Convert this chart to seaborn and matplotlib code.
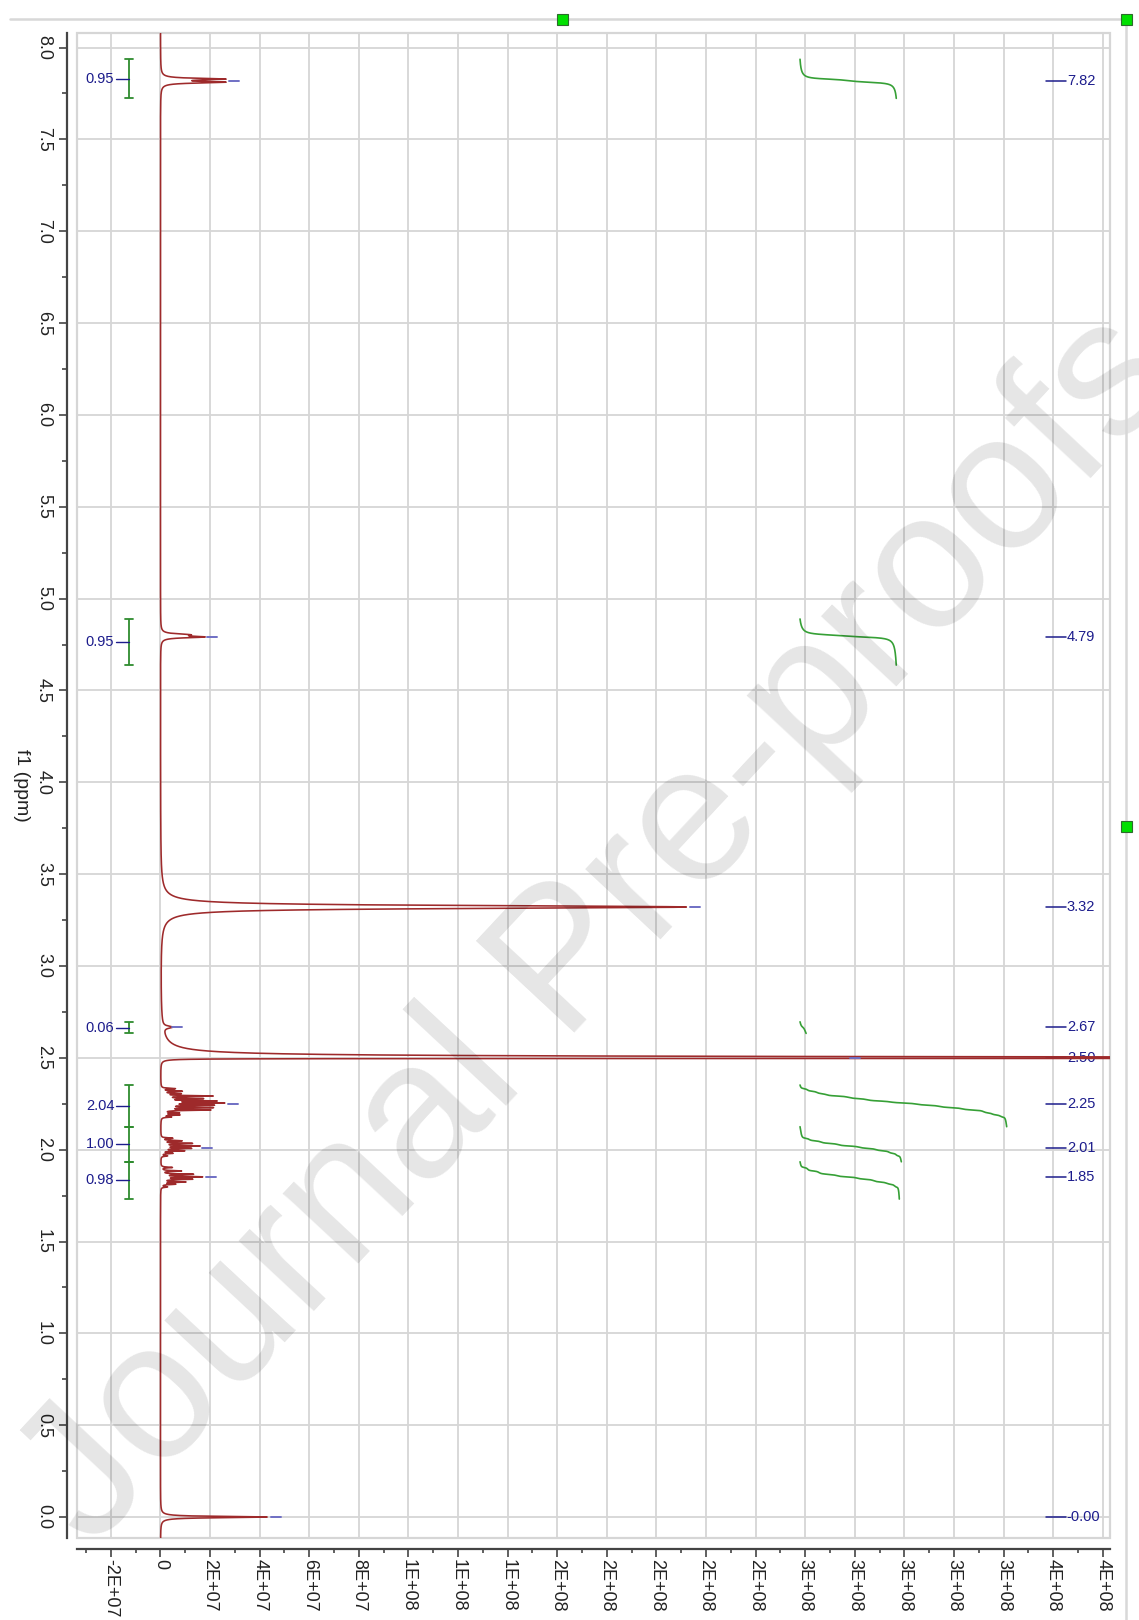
import numpy as np
import pandas as pd
import matplotlib
matplotlib.use("Agg")
import matplotlib.pyplot as plt
import seaborn as sns
from matplotlib.lines import Line2D
from matplotlib.patches import Rectangle

# ---------------- data ----------------
# peak list: chemical shift (ppm), height (intensity), half widths (ppm) on the high / low ppm side
peak_ppm = [7.828, 7.811,
            4.803, 4.791,
            3.321,
            2.667,
            2.4975,
            2.332, 2.318, 2.305, 2.292, 2.278, 2.265, 2.254, 2.242, 2.229, 2.216, 2.200, 2.189, 2.178,
            2.062, 2.048, 2.034, 2.020, 2.007, 1.994, 1.980, 1.966,
            1.903, 1.884, 1.866, 1.852, 1.839, 1.824, 1.812, 1.797,
            0.000]
peak_height = [2.45e7, 2.45e7,
               1.0e7, 1.6e7,
               2.12e8,
               3.8e6,
               1.5e9,
               5.5e6, 8.0e6, 7.0e6, 2.0e7, 1.55e7, 2.05e7, 2.35e7, 1.95e7, 1.95e7, 1.9e7, 6.5e6, 7.0e6, 3.8e6,
               4.5e6, 8.0e6, 1.2e7, 1.5e7, 1.15e7, 9.0e6, 4.5e6, 2.5e6,
               4.5e6, 8.0e6, 1.25e7, 1.6e7, 1.2e7, 9.5e6, 5.5e6, 2.5e6,
               4.3e7]
peak_hw_hi = [0.005, 0.005,
              0.006, 0.005,
              0.0095,
              0.007,
              0.0045,
              0.0025, 0.0025, 0.0025, 0.0025, 0.0025, 0.0025, 0.0025, 0.0025, 0.0025, 0.0025, 0.0025, 0.0025, 0.0025,
              0.0025, 0.0025, 0.0025, 0.0025, 0.0025, 0.0025, 0.0025, 0.0025,
              0.0025, 0.0025, 0.0025, 0.0025, 0.0025, 0.0025, 0.0025, 0.0025,
              0.004]
peak_hw_lo = [0.005, 0.005,
              0.006, 0.005,
              0.0095,
              0.007,
              0.0005,
              0.0025, 0.0025, 0.0025, 0.0025, 0.0025, 0.0025, 0.0025, 0.0025, 0.0025, 0.0025, 0.0025, 0.0025, 0.0025,
              0.0025, 0.0025, 0.0025, 0.0025, 0.0025, 0.0025, 0.0025, 0.0025,
              0.0025, 0.0025, 0.0025, 0.0025, 0.0025, 0.0025, 0.0025, 0.0025,
              0.004]

# integrations
integral_values = [0.95, 0.95, 0.06, 2.04, 1.00, 0.98]
integral_labels = ["0.95", "0.95", "0.06", "2.04", "1.00", "0.98"]
integral_from = [7.936, 4.889, 2.696, 2.352, 2.125, 1.934]
integral_to = [7.723, 4.638, 2.633, 2.125, 1.934, 1.731]

# peak picking labels
label_ppm = [7.82, 4.79, 3.32, 2.67, 2.50, 2.25, 2.01, 1.85, 0.00]
label_text = ["7.82", "4.79", "3.32", "2.67", "2.50", "2.25", "2.01", "1.85", "-0.00"]
marker_start = [2.78e7, 1.86e7, 2.135e8, 4.5e6, 2.78e8, 2.73e7, 1.66e7, 1.82e7, 4.45e7]

# axis ticks
x_ticks = [-2e7, 0, 2e7, 4e7, 6e7, 8e7, 1.0e8, 1.2e8, 1.4e8, 1.6e8, 1.8e8, 2.0e8,
           2.2e8, 2.4e8, 2.6e8, 2.8e8, 3.0e8, 3.2e8, 3.4e8, 3.6e8, 3.8e8]
x_tick_labels = ["-2E+07", "0", "2E+07", "4E+07", "6E+07", "8E+07", "1E+08", "1E+08", "1E+08",
                 "2E+08", "2E+08", "2E+08", "2E+08", "2E+08", "3E+08", "3E+08", "3E+08", "3E+08",
                 "3E+08", "4E+08", "4E+08"]
y_ticks = [0.0, 0.5, 1.0, 1.5, 2.0, 2.5, 3.0, 3.5, 4.0, 4.5, 5.0, 5.5, 6.0, 6.5, 7.0, 7.5, 8.0]
y_tick_labels = ["0.0", "0.5", "1.0", "1.5", "2.0", "2.5", "3.0", "3.5", "4.0", "4.5", "5.0",
                 "5.5", "6.0", "6.5", "7.0", "7.5", "8.0"]

# ---------------- style ----------------
sns.set_theme(style="white")
plt.rcParams['font.family'] = ['Liberation Sans', 'DejaVu Sans']
plt.rcParams['axes.unicode_minus'] = False

SPEC_C = '#9e2a2b'
INT_C = '#36a036'
BR_C = '#2e8b2e'
NAVY = '#1c1c8c'
MARK_C = '#6f6fc4'
GRID_C = '#d6d6d6'

W, H = 1139, 1620
fig = plt.figure(figsize=(W / 100, H / 100), dpi=100)
ax = fig.add_axes([77 / W, 1 - 1538 / H, (1110 - 77) / W, (1538 - 33) / H])

XMIN, XMAX = -3.367e7, 3.829e8
YMIN, YMAX = -0.114, 8.079
ax.set_xlim(XMIN, XMAX)
ax.set_ylim(YMIN, YMAX)

# grid
for xv in x_ticks:
    ax.axvline(xv, color=GRID_C, lw=1.3, zorder=0)
for yv in y_ticks:
    ax.axhline(yv, color=GRID_C, lw=1.3, zorder=0)
ax.add_patch(Rectangle((0, 0), 1, 1, transform=ax.transAxes, fill=False,
                       edgecolor=GRID_C, lw=1.6, zorder=0.5, clip_on=False))

# spectrum built from the peak list
ppm = np.linspace(-0.12, 8.08, 82001)
spec = np.zeros_like(ppm)
for c, h, ghi, glo in zip(peak_ppm, peak_height, peak_hw_hi, peak_hw_lo):
    d = ppm - c
    g = np.where(d > 0, ghi, glo)
    spec += h * g ** 2 / (g ** 2 + d ** 2)

df = pd.DataFrame({'intensity': spec, 'ppm': ppm})
sns.lineplot(data=df, x='intensity', y='ppm', orient='y', sort=False, estimator=None,
             color=SPEC_C, lw=1.15, ax=ax, zorder=3)

# integral curves
INT_BASE = 2.579e8
INT_SCALE = 4.085e7
for v, a, b in zip(integral_values, integral_from, integral_to):
    m = (ppm <= a) & (ppm >= b)
    seg_ppm = ppm[m][::-1]
    cs = np.cumsum(spec[m][::-1])
    cs = cs / cs[-1]
    dfi = pd.DataFrame({'x': INT_BASE + INT_SCALE * v * cs, 'ppm': seg_ppm})
    sns.lineplot(data=dfi, x='x', y='ppm', orient='y', sort=False, estimator=None,
                 color=INT_C, lw=1.2, ax=ax, zorder=3)

# integration brackets and values
BR_X = -1.26e7
CAP = 1.6e6
for lab, a, b in zip(integral_labels, integral_from, integral_to):
    ax.plot([BR_X, BR_X], [b, a], color=BR_C, lw=1.3, zorder=4, solid_capstyle='butt')
    ax.plot([BR_X - CAP, BR_X + CAP], [a, a], color=BR_C, lw=1.3, zorder=4)
    ax.plot([BR_X - CAP, BR_X + CAP], [b, b], color=BR_C, lw=1.3, zorder=4)
    mid = (a + b) / 2
    ax.plot([-1.80e7, BR_X], [mid, mid], color=NAVY, lw=1.0, zorder=4)
    ax.text(-1.86e7, mid, lab, color=NAVY, fontsize=10.5, ha='right', va='center', zorder=4)

# peak labels on the right
for p, t in zip(label_ppm, label_text):
    ax.plot([3.57e8, 3.65e8], [p, p], color=NAVY, lw=1.1, zorder=2.5)
    ax.text(3.655e8, p, t, color=NAVY, fontsize=10.5, ha='left', va='center', zorder=2.5)

# peak markers near the tips
for p, s in zip(label_ppm, marker_start):
    ax.plot([s, s + 4.0e6], [p, p], color=MARK_C, lw=1.4, zorder=5)

# axes, ticks
for side in ['top', 'right']:
    ax.spines[side].set_visible(False)
ax.spines['left'].set_position(('outward', 7))
ax.spines['bottom'].set_position(('outward', 8))
for side in ['left', 'bottom']:
    ax.spines[side].set_color('#444444')
    ax.spines[side].set_linewidth(1.6)

ax.set_xticks(x_ticks)
ax.set_xticklabels(x_tick_labels, rotation=-90, va='top', ha='center')
ax.set_xticks(np.arange(-3e7, 3.85e8, 2e7), minor=True)
ax.set_yticks(y_ticks)
ax.set_yticklabels(y_tick_labels, rotation=-90, va='center', ha='right')
ax.set_yticks(np.arange(0.25, 8.0, 0.5), minor=True)
ax.tick_params(axis='x', which='major', length=5.5, width=1.2, color='#444444',
               pad=1.5, labelsize=13, labelcolor='#222222', bottom=True)
ax.tick_params(axis='x', which='minor', length=2.8, width=1.2, color='#444444', bottom=True)
ax.tick_params(axis='y', which='major', length=6, width=1.2, color='#444444',
               pad=5, labelsize=13, labelcolor='#222222', left=True)
ax.tick_params(axis='y', which='minor', length=3.6, width=1.2, color='#444444', left=True)
ax.set_xlabel('')
ax.set_ylabel('f1 (ppm)', rotation=-90, va='center', ha='center', fontsize=14, color='#222222')
ax.yaxis.set_label_coords((21 - 77) / (1110 - 77), 0.5)

# screenshot frame and selection handles
fig.add_artist(Line2D([10 / W, 1126 / W], [1 - 19 / H, 1 - 19 / H], transform=fig.transFigure,
                      color='#d8d8d8', lw=1.8, zorder=20))
fig.add_artist(Line2D([1126 / W, 1126 / W], [1 - 19 / H, 0], transform=fig.transFigure,
                      color='#d8d8d8', lw=1.8, zorder=20))
for (px, py) in [(562, 19), (1126, 19), (1126, 826)]:
    fig.add_artist(Rectangle(((px - 5.5) / W, 1 - (py + 5.5) / H), 11 / W, 11 / H,
                             transform=fig.transFigure, facecolor='#00e000',
                             edgecolor='#2d6b2d', lw=0.8, zorder=21))

# watermark
fig.text(600 / W, 1 - 930 / H, 'Journal Pre-proofs', rotation=47, rotation_mode='anchor',
         ha='center', va='center', fontsize=140, color='black', alpha=0.10,
         family='Liberation Sans', zorder=10)

fig.savefig('out.png', dpi=100)
